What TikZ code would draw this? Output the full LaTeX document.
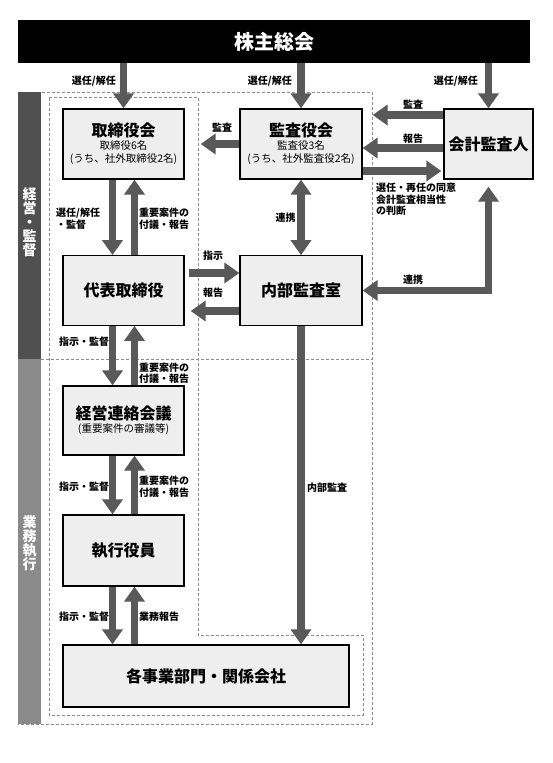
\documentclass[tikz,border=0pt]{standalone}
\usepackage{fontspec}
\setmainfont{Noto Sans CJK JP}
\usetikzlibrary{arrows.meta}
\definecolor{agray}{HTML}{595959}
\definecolor{boxfill}{HTML}{EEEEEE}
\definecolor{banddark}{HTML}{505050}
\definecolor{bandlight}{HTML}{8A8A8A}
\definecolor{dashgray}{HTML}{8C8C8C}
\newcommand\boxtitle[1]{{\bfseries\fontsize{16}{13}\selectfont #1}}
\begin{document}
\begin{tikzpicture}[x=1pt,y=-1pt,
  box/.style={draw=black, line width=1.3pt, fill=boxfill, inner sep=0pt, align=center,
    font=\fontsize{10.5}{13}\selectfont},
  bigbox/.style={draw=black, line width=1.3pt, fill=boxfill, inner sep=0pt, align=center,
    font=\bfseries\fontsize{16}{18}\selectfont},
  lbl/.style={font=\bfseries\fontsize{10}{11.5}\selectfont, inner sep=0pt, align=left},
  bandtxt/.style={text=white, font=\bfseries\fontsize{14}{14}\selectfont, align=center, inner sep=0pt},
  barrow/.style={draw=agray, line width=7.5pt, -{Triangle[width=20pt,length=15pt]}},
  barrowboth/.style={draw=agray, line width=7.5pt, {Triangle[width=20pt,length=15pt]}-{Triangle[width=20pt,length=15pt]}},
  frame/.style={draw=dashgray, densely dashed, line width=0.6pt}]
\path[use as bounding box, fill=white] (0,0) rectangle (552,763);

% frames and bands
\draw[frame] (18,92) rectangle (372,724);
\draw[frame] (41,359) -- (372,359);
\draw[frame] (49,97) -- (198,97) -- (198,635) -- (363,635) -- (363,715) -- (49,715) -- cycle;
\fill[banddark] (18,92) rectangle (41,359);
\fill[bandlight] (18,359) rectangle (41,724);
\node[bandtxt] (band1) at (29.5,222) {経\\営\\・\\監\\督};
\node[bandtxt] (band2) at (29.5,543) {業\\務\\執\\行};

% nodes
\node[fill=black, minimum width=512pt, minimum height=43pt, inner sep=0pt, text=white,
  font=\bfseries\fontsize{20}{24}\selectfont] (kabu) at (274,41.5) {株主総会};
\node[box, minimum width=121pt, minimum height=70pt] (tori) at (123.5,144)
  {\boxtitle{取締役会}\\取締役6名\\(うち、社外取締役2名)};
\node[box, minimum width=122pt, minimum height=70pt] (kansa) at (301,144)
  {\boxtitle{監査役会}\\監査役3名\\(うち、社外監査役2名)};
\node[bigbox, minimum width=89pt, minimum height=70pt] (kaikei) at (488.5,144) {会計監査人};
\node[bigbox, minimum width=121pt, minimum height=69.5pt] (daihyo) at (123.5,290.5) {代表取締役};
\node[bigbox, minimum width=122pt, minimum height=69.5pt] (naibu) at (301,290.5) {内部監査室};
\node[box, minimum width=121pt, minimum height=69pt] (keiei) at (123.5,420.5)
  {\boxtitle{経営連絡会議}\\(重要案件の審議等)};
\node[bigbox, minimum width=121pt, minimum height=71pt] (shikko) at (123.5,550.5) {執行役員};
\node[bigbox, minimum width=286pt, minimum height=62pt] (kakuji) at (206,676) {各事業部門・関係会社};

% arrows from shareholders meeting
\draw[barrow] (kabu.south -| tori.north) -- (tori.north);
\draw[barrow] (kabu.south -| kansa.north) -- (kansa.north);
\draw[barrow] (kabu.south -| kaikei.north) -- (kaikei.north);
\node[lbl, anchor=east] (l1) at (116,81) {選任/解任};
\node[lbl, anchor=east] (l2) at (292,81) {選任/解任};
\node[lbl, anchor=east] (l3) at (478,81) {選任/解任};

% audit board <-> board
\draw[barrow] (kansa.west) -- ([xshift=16pt]tori.east);
\node[lbl] (l4) at (222,128) {監査};

% accounting auditor <-> audit board
\draw[barrow] ([yshift=29pt]kaikei.west) -- ([yshift=29pt,xshift=10pt]kansa.east);
\node[lbl] (l5) at (413,105) {監査};
\draw[barrow] ([yshift=-4pt]kaikei.west) -- ([yshift=-4pt]kansa.east);
\node[lbl] (l6) at (413,139) {報告};
\draw[barrow] ([yshift=-27pt]kansa.east) -- ([yshift=-27pt,xshift=-2pt]kaikei.west);
\node[lbl, anchor=north west] (l7) at (376,183) {選任・再任の同意\\会計監査相当性\\の判断};

% audit board <-> internal audit
\draw[barrowboth] (kansa.south) -- (naibu.north);
\node[lbl] (l8) at (285.5,218) {連携};

% accounting auditor <-> internal audit
\draw[barrowboth] ([yshift=-7pt]kaikei.south) |- (naibu.east);
\node[lbl] (l9) at (413,280) {連携};

% representative director <-> internal audit
\draw[barrow] ([yshift=17.5pt,xshift=4pt]daihyo.east) -- ([yshift=17.5pt]naibu.west);
\node[lbl] (l10) at (213,256) {指示};
\draw[barrow] ([yshift=-20.5pt]naibu.west) -- ([yshift=-20.5pt,xshift=6pt]daihyo.east);
\node[lbl] (l11) at (213,293) {報告};

% board <-> representative director
\draw[barrow] ([xshift=-11pt]tori.south) -- ([xshift=-11pt]daihyo.north);
\draw[barrow] ([xshift=11pt]daihyo.north) -- ([xshift=11pt]tori.south);
\node[lbl, anchor=west] (l12) at (56,218.5) {選任/解任\\・監督};
\node[lbl, anchor=west] (l13) at (139,218.5) {重要案件の\\付議・報告};

% representative director <-> management meeting
\draw[barrow] ([xshift=-11pt]daihyo.south) -- ([xshift=-11pt]keiei.north);
\draw[barrow] ([xshift=11pt]keiei.north) -- ([xshift=11pt]daihyo.south);
\node[lbl, anchor=west] (l14) at (59,342) {指示・監督};
\node[lbl, anchor=west] (l15) at (139,373) {重要案件の\\付議・報告};

% management meeting <-> executive officers
\draw[barrow] ([xshift=-11pt]keiei.south) -- ([xshift=-11pt]shikko.north);
\draw[barrow] ([xshift=11pt]shikko.north) -- ([xshift=11pt]keiei.south);
\node[lbl, anchor=west] (l16) at (59,487) {指示・監督};
\node[lbl, anchor=west] (l17) at (139,486.5) {重要案件の\\付議・報告};

% executive officers <-> divisions
\draw[barrow] ([xshift=-11pt]shikko.south) -- ([xshift=-11pt]shikko.south |- kakuji.north);
\draw[barrow] ([xshift=11pt]shikko.south |- kakuji.north) -- ([xshift=11pt]shikko.south);
\node[lbl, anchor=west] (l18) at (59,617) {指示・監督};
\node[lbl, anchor=west] (l19) at (139,617) {業務報告};

% internal audit -> divisions
\draw[barrow] (naibu.south) -- (naibu.south |- kakuji.north);
\node[lbl, anchor=west] (l20) at (307,488) {内部監査};
\end{tikzpicture}
\end{document}
